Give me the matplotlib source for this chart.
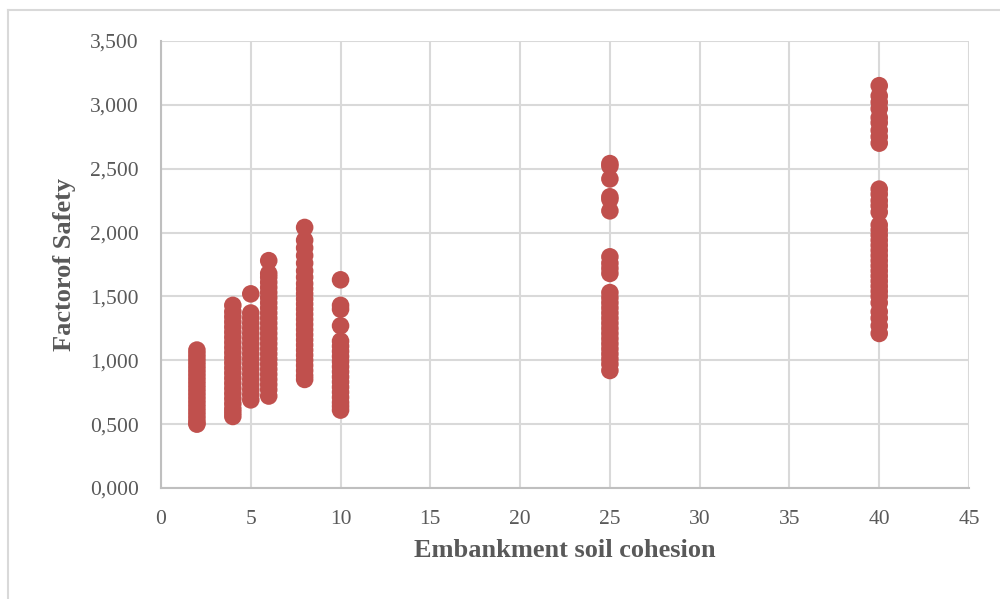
import matplotlib
matplotlib.use("Agg")
import matplotlib.pyplot as plt
from matplotlib.lines import Line2D
from matplotlib.ticker import FuncFormatter

# factor of safety, one list per cohesion value
fs_c2 = [1.08, 1.05, 1.02, 0.99, 0.96, 0.93, 0.90, 0.87, 0.84, 0.81, 0.78,
         0.75, 0.72, 0.69, 0.66, 0.63, 0.60, 0.57, 0.54, 0.51, 0.50]
fs_c4 = [1.43, 1.38, 1.34, 1.30, 1.26, 1.22, 1.18, 1.14, 1.10, 1.06, 1.02,
         0.98, 0.94, 0.90, 0.86, 0.82, 0.78, 0.74, 0.70, 0.66, 0.62, 0.59, 0.56]
fs_c5 = [1.52, 1.37, 1.33, 1.29, 1.25, 1.21, 1.17, 1.13, 1.09, 1.05, 1.01,
         0.97, 0.93, 0.89, 0.85, 0.81, 0.77, 0.73, 0.69]
fs_c6 = [1.78, 1.68, 1.65, 1.61, 1.57, 1.53, 1.49, 1.45, 1.41, 1.37, 1.33,
         1.29, 1.25, 1.21, 1.17, 1.13, 1.09, 1.05, 1.01, 0.97, 0.93, 0.89,
         0.85, 0.81, 0.77, 0.72]
fs_c8 = [2.04, 1.94, 1.88, 1.82, 1.76, 1.70, 1.65, 1.60, 1.56, 1.52, 1.48,
         1.44, 1.40, 1.36, 1.32, 1.28, 1.24, 1.20, 1.16, 1.12, 1.08, 1.04,
         1.00, 0.96, 0.92, 0.88, 0.85]
fs_c10 = [1.63, 1.43, 1.40, 1.27, 1.15, 1.11, 1.07, 1.03, 0.99, 0.95, 0.91,
          0.87, 0.83, 0.79, 0.75, 0.71, 0.67, 0.64, 0.61]
fs_c25 = [2.54, 2.52, 2.42, 2.28, 2.26, 2.17, 1.81, 1.76, 1.72, 1.68, 1.53,
          1.49, 1.45, 1.41, 1.37, 1.33, 1.29, 1.25, 1.21, 1.17, 1.13, 1.09,
          1.05, 1.01, 0.97, 0.92]
fs_c40 = [3.15, 3.07, 3.02, 2.97, 2.90, 2.86, 2.80, 2.75, 2.70, 2.34, 2.30,
          2.25, 2.21, 2.16, 2.06, 2.02, 1.98, 1.94, 1.90, 1.86, 1.82, 1.78,
          1.74, 1.70, 1.66, 1.62, 1.58, 1.54, 1.50, 1.45, 1.38, 1.33, 1.27,
          1.21]

cohesion = [2, 4, 5, 6, 8, 10, 25, 40]
fs_groups = [fs_c2, fs_c4, fs_c5, fs_c6, fs_c8, fs_c10, fs_c25, fs_c40]

x_ticks = list(range(0, 50, 5))
y_ticks = [0, 0.5, 1.0, 1.5, 2.0, 2.5, 3.0, 3.5]

plt.rcParams['font.family'] = ['Liberation Serif', 'DejaVu Serif']

fig = plt.figure(figsize=(10, 5.99), dpi=100)
ax = fig.add_axes([0.161, 0.1853, 0.808, 0.7463])

# chart area frame (only left and top edges are inside the picture)
fig.add_artist(Line2D([0.008, 0.008], [0, 1 - 10 / 599], transform=fig.transFigure,
                      color='#d9d9d9', lw=1.5))
fig.add_artist(Line2D([0.008, 1.0], [1 - 10 / 599, 1 - 10 / 599], transform=fig.transFigure,
                      color='#d9d9d9', lw=1.5))

xs = []
ys = []
for c, vals in zip(cohesion, fs_groups):
    xs += [c] * len(vals)
    ys += vals
ax.scatter(xs, ys, s=160, color='#c0504d', edgecolors='none', zorder=3)

ax.set_xlim(0, 45)
ax.set_ylim(0, 3.5)
ax.set_xticks(x_ticks)
ax.set_yticks(y_ticks)
ax.yaxis.set_major_formatter(FuncFormatter(lambda v, p: ('%.3f' % v).replace('.', ',')))

ax.grid(True, color='#d9d9d9', lw=1.5)
ax.set_axisbelow(True)
for side in ['top', 'right']:
    ax.spines[side].set_visible(False)
ax.spines['left'].set_color('#bfbfbf')
ax.spines['bottom'].set_color('#bfbfbf')
ax.spines['left'].set_linewidth(1.5)
ax.spines['bottom'].set_linewidth(1.5)
ax.tick_params(length=0, labelsize=15.5, colors='#595959')
ax.tick_params(axis='y', pad=16)
ax.tick_params(axis='x', pad=16)

ax.set_xlabel('Embankment soil cohesion', fontsize=19, fontweight='bold',
              color='#595959', labelpad=7)
ax.set_ylabel('Factorof Safety', fontsize=19, fontweight='bold',
              color='#595959', labelpad=10)

fig.savefig('out.png', dpi=100)
